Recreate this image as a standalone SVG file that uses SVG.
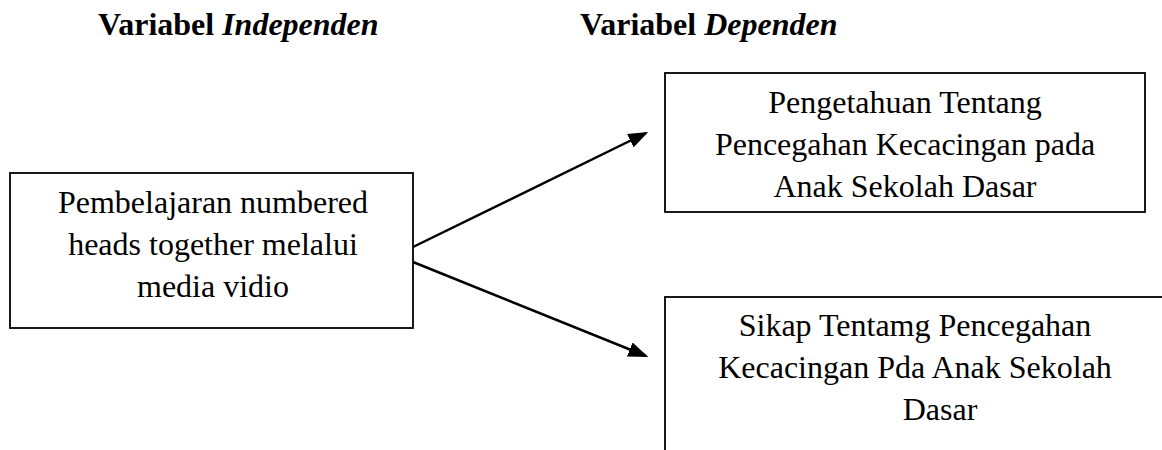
<svg xmlns="http://www.w3.org/2000/svg" width="1162" height="450" viewBox="0 0 1162 450">
<style>
text{font-family:"Liberation Serif","Times New Roman",serif;font-size:32px;fill:#000}
.h{font-weight:bold}
.c{text-anchor:middle}
.box{fill:#fff;stroke:#000;stroke-width:1.8}
.conn{stroke:#000;stroke-width:2.5;fill:none}
</style>
<defs>
<marker id="ah" markerWidth="8" markerHeight="6" refX="7" refY="3" orient="auto" markerUnits="strokeWidth">
<path d="M0,0 L8,3 L0,6 Z" fill="#000"/>
</marker>
</defs>
<g id="headings">
<text class="h" x="98" y="35">Variabel <tspan font-style="italic">Independen</tspan></text>
<text class="h" x="580" y="35">Variabel <tspan font-style="italic">Dependen</tspan></text>
</g>
<g id="connectors">
<line class="conn" x1="413" y1="247" x2="646" y2="133" marker-end="url(#ah)"/>
<line class="conn" x1="413" y1="262" x2="646" y2="356" marker-end="url(#ah)"/>
</g>
<g id="node-independen">
<rect class="box" x="10" y="173" width="403" height="155"/>
<text class="c" x="213" y="213">Pembelajaran numbered</text>
<text class="c" x="213" y="255">heads together melalui</text>
<text class="c" x="213" y="297">media vidio</text>
</g>
<g id="node-pengetahuan">
<rect class="box" x="665" y="73" width="480" height="139"/>
<text class="c" x="905" y="113">Pengetahuan Tentang</text>
<text class="c" x="905" y="155">Pencegahan Kecacingan pada</text>
<text class="c" x="905" y="197">Anak Sekolah Dasar</text>
</g>
<g id="node-sikap">
<rect class="box" x="665" y="297" width="520" height="200"/>
<text class="c" x="915" y="336">Sikap Tentamg Pencegahan</text>
<text class="c" x="915" y="378">Kecacingan Pda Anak Sekolah</text>
<text class="c" x="940" y="420">Dasar</text>
</g>
</svg>
